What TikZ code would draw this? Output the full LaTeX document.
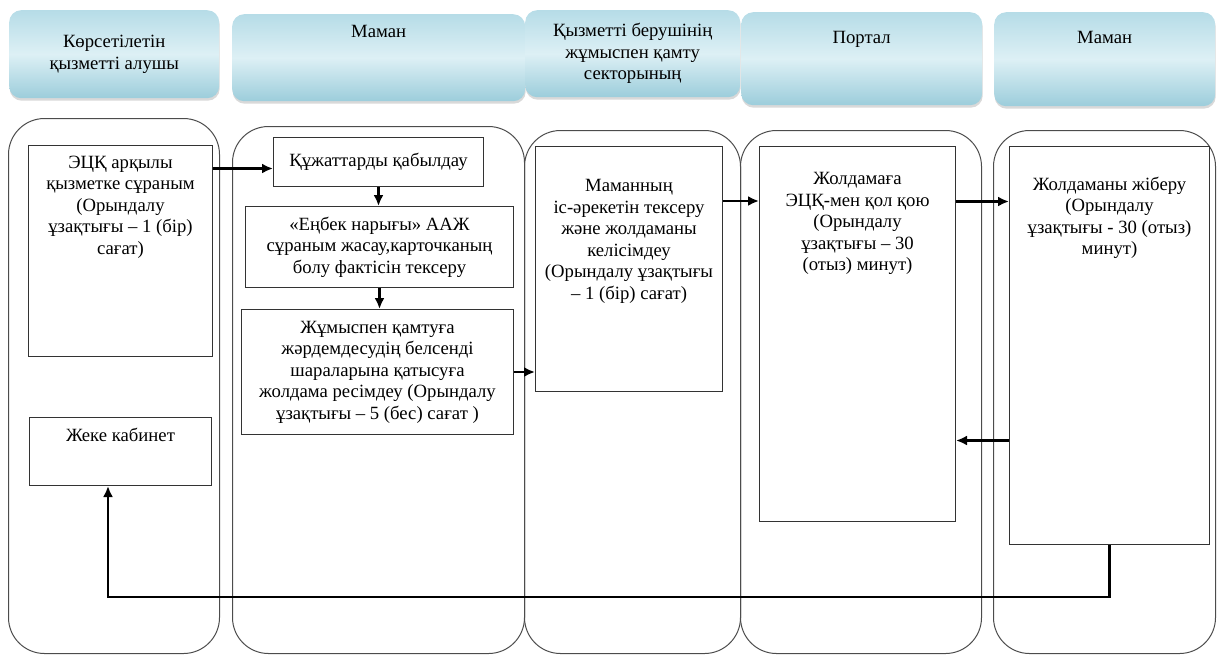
\documentclass[tikz,border=0pt]{standalone}
\usepackage{fontspec}
\setmainfont{Liberation Serif}
\usetikzlibrary{positioning, arrows.meta, shadows}

\definecolor{headtop}{HTML}{B6DCE7}
\definecolor{headmid}{HTML}{DDF0F5}
\definecolor{headbot}{HTML}{9CCDDB}

\begin{document}
\begin{tikzpicture}[x=1pt, y=-1pt,
        font=\fontsize{18.7}{21.5}\selectfont,
        head/.style={rounded corners=12pt, top color=headtop, bottom color=headbot, middle color=headmid, drop shadow={shadow xshift=0.5pt, shadow yshift=-2.5pt, opacity=0.3}, anchor=north west, align=center, inner sep=0pt},
        lane/.style={draw=black!70, line width=1pt, rounded corners=36pt, anchor=north west, inner sep=0pt},
        box/.style={draw=black!80, line width=1pt, fill=white, anchor=north west, align=center, inner sep=0pt},
        txt/.style={align=center, inner sep=0pt},
        flow/.style={-{Latex[length=11pt, width=10pt]}, line width=2.6pt}]
        \useasboundingbox (0,0) rectangle (1217,654);

        % lanes
        \node[lane, minimum width=211pt, minimum height=535pt](lane1) at (8,118){};
        \node[lane, minimum width=292pt, minimum height=527pt](lane2) at (232,126){};
        \node[lane, minimum width=216pt, minimum height=523pt](lane3) at (524,130){};
        \node[lane, minimum width=241pt, minimum height=523pt](lane4) at (740,130){};
        \node[lane, minimum width=222pt, minimum height=523pt](lane5) at (993,130){};

        % headers
        \node[head, minimum width=210pt, minimum height=88pt](h1) at (9,10){Көрсетілетін\\қызметті алушы};
        \node[head, minimum width=293pt, minimum height=87pt](h2) at (232,14){};
        \node[txt](h2t)[below = 11.5pt of h2.north]{Маман};
        \node[head, minimum width=215pt, minimum height=87pt](h3) at (525,10){Қызметті берушінің\\жұмыспен қамту\\секторының};
        \node[head, minimum width=241pt, minimum height=93pt](h4) at (741,12){};
        \node[txt](h4t)[below = 19.5pt of h4.north]{Портал};
        \node[head, minimum width=221pt, minimum height=94pt](h5) at (994,12){};
        \node[txt](h5t)[below = 19.5pt of h5.north]{Маман};

        % steps
        \node[box, minimum width=184pt, minimum height=211pt](a1) at (28,145){};
        \node[txt](a1t)[below = 10.5pt of a1.north]{ЭЦҚ арқылы\\қызметке сұраным\\(Орындалу\\ұзақтығы – 1 (бір)\\сағат)};
        \node[box, minimum width=182pt, minimum height=68pt](a2) at (29,417){};
        \node[txt](a2t)[below = 10.5pt of a2.north]{Жеке кабинет};
        \node[box, minimum width=210pt, minimum height=49pt](b1) at (273,137){Құжаттарды қабылдау};
        \node[box, minimum width=268pt, minimum height=81pt](b2) at (245,206){«Еңбек нарығы» ААЖ\\сұраным жасау,карточканың\\болу фактісін тексеру};
        \node[box, minimum width=272pt, minimum height=125pt](b3) at (241,309){Жұмыспен қамтуға\\жәрдемдесудің белсенді\\шараларына қатысуға\\жолдама ресімдеу (Орындалу\\ұзақтығы – 5 (бес) сағат )};
        \node[box, minimum width=187pt, minimum height=245pt](c1) at (535,146){};
        \node[txt](c1t)[below = 33.5pt of c1.north]{Маманның\\іс-әрекетін тексеру\\және жолдаманы\\келісімдеу\\(Орындалу ұзақтығы\\– 1 (бір) сағат)};
        \node[box, minimum width=196pt, minimum height=375pt](d1) at (759,146){};
        \node[txt](d1t)[below = 26.5pt of d1.north]{Жолдамаға\\ЭЦҚ-мен қол қою\\(Орындалу\\ұзақтығы – 30\\(отыз) минут)};
        \node[box, minimum width=200pt, minimum height=398pt](e1) at (1009,146){};
        \node[txt](e1t)[below = 30.5pt of e1.north]{Жолдаманы жіберу\\(Орындалу\\ұзақтығы - 30 (отыз)\\минут)};

        % arrows
        \coordinate (b1in) at ([yshift=-6.5pt]b1.west);
        \coordinate (c1out) at ([yshift=68pt]c1.east);
        \coordinate (d1out) at ([yshift=132.5pt]d1.east);
        \coordinate (e1back) at ([yshift=-95pt]e1.west);
        \coordinate (turn) at (108,597);

        \draw[flow] (b1in -| a1.east) -- (b1in);
        \draw[flow] (b1.south) -- (b1.south |- b2.north);
        \draw[flow] (b2.south) -- (b2.south |- b3.north);
        \draw[flow] (b3.east) -- (b3.east -| c1.west);
        \draw[flow] (c1out) -- (c1out -| d1.west);
        \draw[flow] (d1out) -- (d1out -| e1.west);
        \draw[flow] (e1back) -- (e1back -| d1.east);
        \draw[flow] (e1.south) |- (turn) -- (turn |- a2.south);
    \end{tikzpicture}
\end{document}
